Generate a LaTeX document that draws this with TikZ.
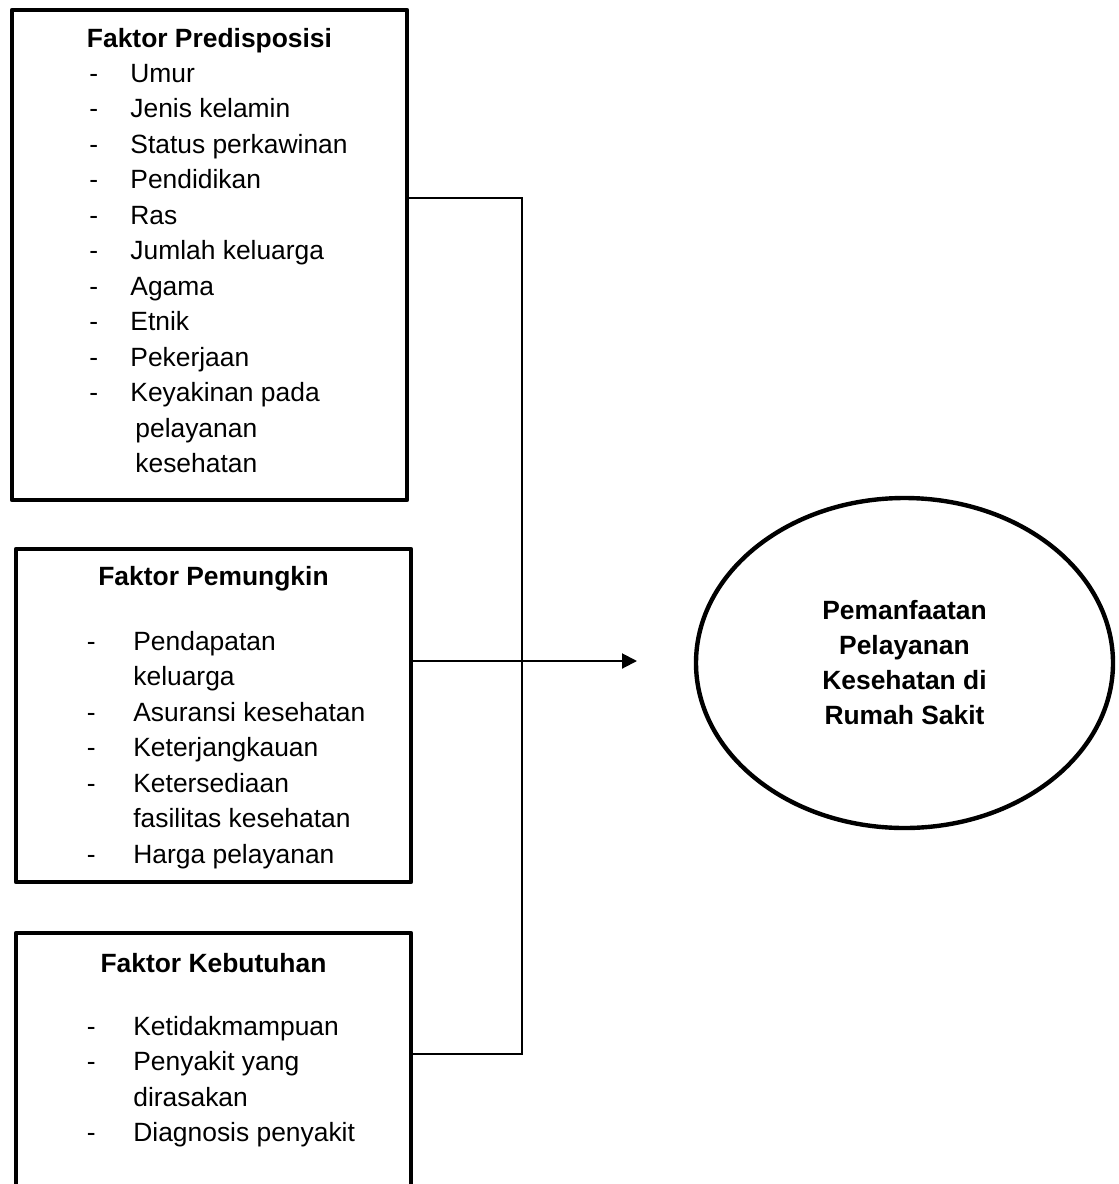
\documentclass[tikz,border=0pt]{standalone}
\usepackage{fontspec}
\setmainfont{Liberation Sans}
\usetikzlibrary{arrows.meta,shapes.geometric}
\tikzset{
  factorbox/.style={draw, line width=2.2pt, line join=round, inner sep=0pt, minimum width=197.5pt},
  headline/.style={font=\fontsize{13.2}{17.75}\selectfont\bfseries, inner sep=0pt, anchor=base},
  itemlist/.style={font=\fontsize{13.2}{17.75}\selectfont, inner sep=0pt, anchor=base west},
  link/.style={line width=1pt},
  outcome/.style={draw, ellipse, line width=2.2pt, inner sep=0pt, minimum width=208.5pt, minimum height=165pt,
    align=center, font=\fontsize{13.2}{17.5}\selectfont\bfseries}
}

\begin{document}
\begin{tikzpicture}[x=0.5pt,y=-0.5pt]
\useasboundingbox (0,0) rectangle (1119,1184); %page size
\clip (0,0) rectangle (1119,1184); %bottom box runs off the page
\node[factorbox, minimum height=245pt] (pred) at (209.5,255) {}; %box predisposisi
\node[factorbox, minimum height=166.5pt] (enab) at (213.5,715.5) {}; %box pemungkin
\node[factorbox, minimum height=138.5pt] (need) at (213.5,1071.5) {}; %box kebutuhan
\node[headline] (predhead) at (209.5,47) {Faktor Predisposisi}; %title box 1
\node[headline] (enabhead) at (213.5,585) {Faktor Pemungkin}; %title box 2
\node[headline] (needhead) at (213.5,972) {Faktor Kebutuhan}; %title box 3
\node[itemlist] (predlist) at (89,82) {\begin{tabular}[t]{@{}p{20.5pt}@{}l@{}}
  - & Umur\\
  - & Jenis kelamin\\
  - & Status perkawinan\\
  - & Pendidikan\\
  - & Ras\\
  - & Jumlah keluarga\\
  - & Agama\\
  - & Etnik\\
  - & Pekerjaan\\
  - & Keyakinan pada\\
    & \hspace*{2.5pt}pelayanan\\
    & \hspace*{2.5pt}kesehatan
  \end{tabular}}; %items box 1
\node[itemlist] (enablist) at (86.5,650) {\begin{tabular}[t]{@{}p{23.25pt}@{}l@{}}
  - & Pendapatan\\
    & keluarga\\
  - & Asuransi kesehatan\\
  - & Keterjangkauan\\
  - & Ketersediaan\\
    & fasilitas kesehatan\\
  - & Harga pelayanan
  \end{tabular}}; %items box 2
\node[itemlist] (needlist) at (86.5,1035) {\begin{tabular}[t]{@{}p{23.25pt}@{}l@{}}
  - & Ketidakmampuan\\
  - & Penyakit yang\\
    & dirasakan\\
  - & Diagnosis penyakit
  \end{tabular}}; %items box 3
\node[outcome] (use) at (904.5,663) {Pemanfaatan\\Pelayanan\\Kesehatan di\\Rumah Sakit}; %outcome ellipse
\coordinate (bustop) at (522,198); %top of joining line
\coordinate (busbottom) at (522,1054); %bottom of joining line
\coordinate (tip) at (637,661); %arrow end
\draw[link] (bustop -| pred.east) -- (bustop) -- (busbottom) -- (busbottom -| need.east); %joining line
\draw[link, -{Triangle[length=7.5pt,width=7.5pt]}] (tip -| enab.east) -- (tip); %arrow to outcome
\end{tikzpicture}
\end{document}
